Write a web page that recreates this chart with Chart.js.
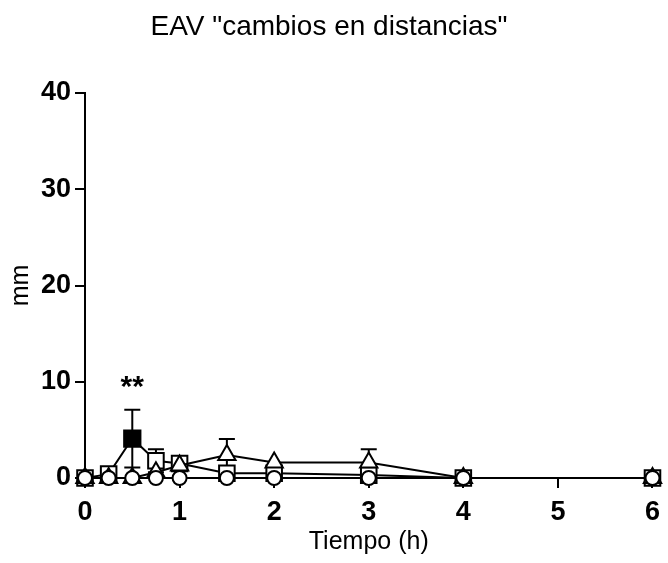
<!DOCTYPE html>
<html>
<head>
<meta charset="utf-8">
<title>EAV cambios en distancias</title>
<script src="https://cdn.jsdelivr.net/npm/chart.js@4.4.1/dist/chart.umd.min.js"></script>
<style>
    html, body { margin: 0; padding: 0; background: #fff; }
    #wrap { width: 668px; height: 563px; position: relative; }
</style>
</head>
<body>
<div id="wrap"><canvas id="eavChart"></canvas></div>
<script>
/*=============== DATA ===============*/

// Sampling times (h)
const times = [0, 0.25, 0.5, 0.75, 1, 1.5, 2, 3, 4, 6];

// Mean change in distance (mm) per group
const circleValues = [0, 0, 0, 0, 0, 0, 0, 0, 0, 0];
const triangleValues = [0, 0, 0, 0.6, 1.3, 2.4, 1.6, 1.6, 0, 0];
const squareValues = [0, 0.4, 4.1, 1.8, 1.5, 0.5, 0.5, 0.3, 0, 0];

// Error bars (mm)
const triangleErrors = [0, 0, 0, 0, 0, 1.65, 0, 1.4, 0, 0];
const squareErrors = [0, 0, 3.0, 1.2, 0, 0, 0, 0, 0, 0];

// Significance marks
const sigTimes = [0.5];
const sigLabels = ['**'];

// Axis ticks
const yTicks = [0, 10, 20, 30, 40];
const xTicks = [0, 1, 2, 3, 4, 5, 6];

const FONT = "'Liberation Sans', Arial, sans-serif";

const toPoints = values => times.map((t, i) => ({ x: t, y: values[i] }));

// Error bars drawn under the markers
const errorBarPlugin = {
    id: 'errorBars',
    beforeDatasetsDraw(chart) {
        const { ctx, scales: { y } } = chart;
        ctx.save();
        ctx.strokeStyle = '#000';
        ctx.lineWidth = 2;
        chart.data.datasets.forEach((ds, di) => {
            if (!ds.errors) return;
            const meta = chart.getDatasetMeta(di);
            ds.errors.forEach((err, i) => {
                if (!err) return;
                const x = meta.data[i].x;
                const v = ds.data[i].y;
                const top = y.getPixelForValue(v + err);
                const bot = y.getPixelForValue(v - err);
                ctx.beginPath();
                ctx.moveTo(x, top);
                ctx.lineTo(x, bot);
                ctx.moveTo(x - 8, top);
                ctx.lineTo(x + 8, top);
                ctx.moveTo(x - 8, bot);
                ctx.lineTo(x + 8, bot);
                ctx.stroke();
            });
        });
        ctx.restore();
    }
};

// "**" above the significant point
const sigPlugin = {
    id: 'sigMarks',
    afterDatasetsDraw(chart) {
        const { ctx, scales: { x, y } } = chart;
        ctx.save();
        ctx.fillStyle = '#000';
        ctx.font = `bold 30px ${FONT}`;
        ctx.textAlign = 'center';
        ctx.textBaseline = 'alphabetic';
        sigTimes.forEach((t, k) => {
            const i = times.indexOf(t);
            const top = y.getPixelForValue(squareValues[i] + squareErrors[i]);
            ctx.fillText(sigLabels[k], x.getPixelForValue(t), top - 14);
        });
        ctx.restore();
    }
};

document.addEventListener('DOMContentLoaded', () => {
    const ctx = document.getElementById('eavChart').getContext('2d');

    const baseSet = {
        borderColor: '#000',
        borderWidth: 2,
        pointBorderColor: '#000',
        pointBorderWidth: 2,
        pointHoverRadius: 0,
        tension: 0,
        clip: false
    };

    new Chart(ctx, {
        type: 'line',
        data: {
            datasets: [
                {
                    ...baseSet,
                    label: 'circulos',
                    data: toPoints(circleValues),
                    pointStyle: 'circle',
                    pointRadius: 7,
                    pointBackgroundColor: '#fff'
                },
                {
                    ...baseSet,
                    label: 'triangulos',
                    data: toPoints(triangleValues),
                    errors: triangleErrors,
                    pointStyle: 'triangle',
                    pointRadius: 10,
                    pointBackgroundColor: '#fff'
                },
                {
                    ...baseSet,
                    label: 'cuadrados',
                    data: toPoints(squareValues),
                    errors: squareErrors,
                    pointStyle: 'rect',
                    pointRadius: times.map(t => sigTimes.includes(t) ? 11.5 : 11),
                    pointBackgroundColor: times.map(t => sigTimes.includes(t) ? '#000' : '#fff')
                }
            ]
        },
        options: {
            responsive: true,
            maintainAspectRatio: false,
            animation: false,
            events: [],
            layout: { padding: { top: 0, right: 10, bottom: 0, left: 0 } },
            plugins: {
                legend: { display: false },
                tooltip: { enabled: false },
                title: {
                    display: true,
                    text: 'EAV "cambios en distancias"',
                    color: '#000',
                    font: { family: FONT, size: 28, weight: 'normal' },
                    padding: { top: 10, bottom: 49.4 }
                }
            },
            scales: {
                x: {
                    type: 'linear',
                    min: 0,
                    max: 6,
                    afterFit: scale => { scale.height = 85; },
                    afterBuildTicks: scale => { scale.ticks = xTicks.map(v => ({ value: v })); },
                    border: { display: true, color: '#000', width: 2 },
                    grid: { display: true, drawOnChartArea: false, drawTicks: true, tickLength: 10, color: '#000', lineWidth: 2 },
                    ticks: {
                        color: '#000',
                        padding: 8,
                        font: { family: FONT, size: 27, weight: 'bold' }
                    },
                    title: {
                        display: true,
                        text: 'Tiempo (h)',
                        color: '#000',
                        font: { family: FONT, size: 25, weight: 'normal' },
                        padding: { top: 0, bottom: 6 }
                    }
                },
                y: {
                    min: 0,
                    max: 40,
                    afterFit: scale => { scale.width = 85; },
                    afterBuildTicks: scale => { scale.ticks = yTicks.map(v => ({ value: v })); },
                    border: { display: true, color: '#000', width: 2 },
                    grid: { display: true, drawOnChartArea: false, drawTicks: true, tickLength: 10, color: '#000', lineWidth: 2 },
                    ticks: {
                        color: '#000',
                        padding: 4,
                        font: { family: FONT, size: 27, weight: 'bold' }
                    },
                    title: {
                        display: true,
                        text: 'mm',
                        color: '#000',
                        font: { family: FONT, size: 25, weight: 'normal' },
                        padding: { top: 6, bottom: 0 }
                    }
                }
            }
        },
        plugins: [errorBarPlugin, sigPlugin]
    });
});
</script>
</body>
</html>
